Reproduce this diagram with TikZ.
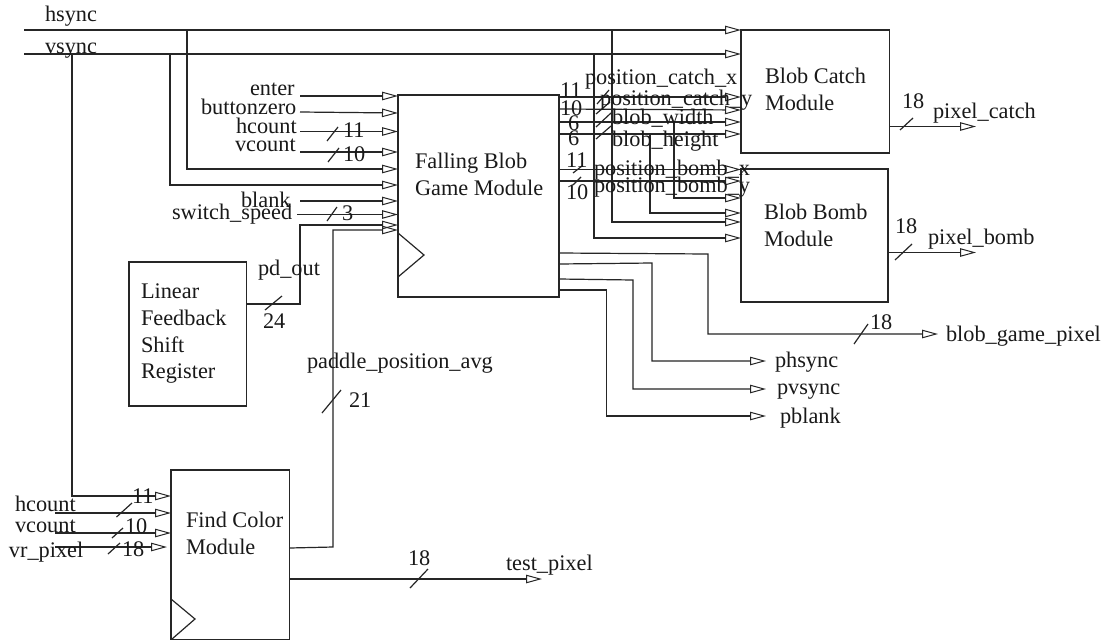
\documentclass[tikz,border=0pt]{standalone}
\usepackage{fontspec}
\setmainfont{Liberation Serif}
\usetikzlibrary{arrows.meta}
\newcommand\lab[4]{\node[lbl] (#1) at (#2,#3) {#4};}
\newcommand\blk[6]{\node[blockbox,minimum width=#4pt,minimum height=#5pt] (#1) at (#2,#3) {};}
\newcommand\slashmark[4]{\draw[wire] (#1,#2) -- (#3,#4);}
\tikzset{
  wire/.style={line width=1.2pt,draw=black!85,line join=miter},
  arr/.style={wire,-{Triangle[open,length=16pt,width=8.5pt,line width=1pt]}},
  blockbox/.style={draw=black!85,line width=1.3pt,anchor=north west,inner sep=0pt,outer sep=0pt},
  lbl/.style={anchor=base west,inner sep=0pt,outer sep=0pt,font=\fontsize{22.3}{26}\selectfont,text=black!90},
}
\begin{document}
\begin{tikzpicture}[x=1pt,y=-1pt]
\useasboundingbox[fill=white] (0,0) rectangle (1107,640);
% blocks
\blk{game}{398}{95}{161}{202}{}
\blk{catch}{741}{30}{148.5}{123}{}
\blk{bomb}{741}{169}{147}{133}{}
\blk{lfsr}{129}{262}{117.5}{144}{}
\blk{fc}{171}{470}{118.5}{169.5}{}
% clock marks
\draw[wire] (398,233) -- (424,255) -- (398,277);
\draw[wire] (171,599) -- (195,619) -- (172,639);
% free ends
\coordinate (hs) at (24,30);
\coordinate (vs) at (24,54);
\coordinate (hsj) at (187,30);
\coordinate (vsj) at (170,54);
\coordinate (vsk) at (72,54);
\coordinate (hsr) at (612,30);
\coordinate (vsr) at (594,54);
\coordinate (wj) at (674,122);
\coordinate (hj) at (650,134);
\coordinate (enterS) at (300,96);
\coordinate (buttonS) at (300,112);
\coordinate (hcS) at (300,131.5);
\coordinate (vcS) at (300,152);
\coordinate (blankS) at (300,201);
\coordinate (swS) at (297,214.5);
\coordinate (fc1S) at (55,513);
\coordinate (fc2S) at (55,533);
\coordinate (fc3S) at (55,547);
\coordinate (pcE) at (976,126.5);
\coordinate (pbE) at (976,252.5);
\coordinate (tpE) at (542,579);
\coordinate (bgE) at (938,334);
\coordinate (phE) at (766,361);
\coordinate (pvE) at (766,389);
\coordinate (plE) at (766,416);
% sync lines
\draw[arr] (hs) -- (catch.west |- hs);
\draw[arr] (vs) -- (catch.west |- vs);
\draw[arr] (hsj) -- (187,169) -- (game.west |- 0,169);
\draw[arr] (vsj) -- (170,185) -- (game.west |- 0,185);
\draw[arr] (vsk) -- (72,496) -- (fc.west |- 0,496);
\draw[arr] (hsr) -- (612,222) -- (bomb.west |- 0,222);
\draw[arr] (vsr) -- (594,238) -- (bomb.west |- 0,238);
% game inputs
\draw[arr] (enterS) -- (game.west |- enterS);
\draw[arr] (buttonS) -- (game.west |- 0,113);
\draw[arr] (hcS) -- (game.west |- hcS);
\draw[arr] (vcS) -- (game.west |- vcS);
\draw[arr] (blankS) -- (game.west |- blankS);
\draw[arr] (swS) -- (game.west |- swS);
\draw[arr] (lfsr.east |- 0,304) -- (300,304) -- (300,225) -- (game.west |- 0,225);
\draw[arr] (fc.east |- 0,548) -- (333,547) -- (333,230) -- (game.west |- 0,230);
% find colour inputs
\draw[arr] (fc1S) -- (fc.west |- fc1S);
\draw[arr] (fc2S) -- (fc.west |- fc2S);
\draw[arr] (fc3S) -- (167,547);
% game to catch and bomb
\draw[arr] (game.east |- 0,97) -- (catch.west |- 0,97);
\draw[arr] (game.east |- 0,109) -- (catch.west |- 0,110);
\draw[arr] (game.east |- wj) -- (catch.west |- wj);
\draw[arr] (game.east |- hj) -- (catch.west |- hj);
\draw[arr] (game.east |- 0,169.5) -- (bomb.west |- 0,169.5);
\draw[arr] (game.east |- 0,181) -- (bomb.west |- 0,181);
\draw[arr] (wj) -- (674,198) -- (bomb.west |- 0,198);
\draw[arr] (hj) -- (650,213) -- (bomb.west |- 0,213);
% game outputs
\draw[arr] (game.east |- 0,253) -- (708,254) -- (708,334) -- (bgE);
\draw[arr] (game.east |- 0,264) -- (652,263) -- (652,361) -- (phE);
\draw[arr] (game.east |- 0,279) -- (633,280) -- (633,389) -- (pvE);
\draw[arr] (game.east |- 0,290) -- (606.5,290) -- (606.5,416) -- (plE);
\draw[arr] (catch.east |- pcE) -- (pcE);
\draw[arr] (bomb.east |- pbE) -- (pbE);
\draw[arr] (fc.east |- tpE) -- (tpE);
% bus marks
\slashmark{327}{141}{338}{127}
\slashmark{328}{162}{339}{148}
\slashmark{327}{221}{337}{207}
\slashmark{265}{310}{282}{296}
\slashmark{322}{413}{341}{390}
\slashmark{116.5}{517}{132}{503}
\slashmark{112}{538}{123}{528}
\slashmark{108}{554}{120}{543}
\slashmark{410}{588}{428}{569}
\slashmark{597}{104}{609}{90}
\slashmark{596}{114}{610}{102}
\slashmark{596}{127}{611}{113}
\slashmark{596}{139}{611}{126}
\slashmark{573}{173}{582}{166}
\slashmark{573}{185}{581}{177}
\slashmark{900}{130}{913}{118}
\slashmark{895}{260}{912}{244}
\slashmark{854}{344}{868}{324}
% texts
\lab{thsync}{45}{21}{hsync}
\lab{tvsync}{45}{53}{vsync}
\lab{tenter}{250}{95}{enter}
\lab{tbutton}{201}{114}{buttonzero}
\lab{thc}{236}{133}{hcount}
\lab{tvc}{235}{151}{vcount}
\lab{tblank}{241}{207}{blank}
\lab{tsw}{172}{219}{switch\_speed}
\lab{tpd}{258}{275}{pd\_out}
\lab{n24}{263}{328}{24}
\lab{tpad}{307}{368}{paddle\_position\_avg}
\lab{n21}{349}{407}{21}
\lab{n11a}{343}{137}{11}
\lab{n10a}{343}{161}{10}
\lab{n3}{342}{220}{3}
\lab{gamea}{415}{168}{Falling Blob}
\lab{gameb}{415}{195}{Game Module}
\lab{lfa}{141}{298}{Linear}
\lab{lfb}{141}{325}{Feedback}
\lab{lfc}{141}{352}{Shift}
\lab{lfd}{141}{378}{Register}
\lab{fca}{186}{527}{Find Color}
\lab{fcb}{186}{554}{Module}
\lab{thc2}{15}{511}{hcount}
\lab{tvc2}{15}{532}{vcount}
\lab{tvr}{9}{557}{vr\_pixel}
\lab{n11b}{132}{503}{11}
\lab{n10b}{125}{533}{10}
\lab{n18b}{122}{556}{18}
\lab{n18c}{408}{565}{18}
\lab{ttp}{506}{570}{test\_pixel}
\lab{caa}{765}{83}{Blob Catch}
\lab{cab}{765}{110}{Module}
\lab{boa}{764}{219}{Blob Bomb}
\lab{bob}{764}{246}{Module}
\lab{n18d}{902}{108}{18}
\lab{tpc}{933}{118}{pixel\_catch}
\lab{n18e}{895}{233}{18}
\lab{tpb}{928}{244}{pixel\_bomb}
\lab{n18f}{870}{329}{18}
\lab{tbg}{946}{341}{blob\_game\_pixel}
\lab{tph}{775}{367}{phsync}
\lab{tpv}{777}{394}{pvsync}
\lab{tpl}{780}{423}{pblank}
\lab{tpcx}{585}{84}{position\_catch\_x}
\lab{tpcy}{600}{105}{position\_catch\_y}
\lab{tbw}{612}{124}{blob\_width}
\lab{tbh}{612}{146}{blob\_height}
\lab{tpbx}{594}{175}{position\_bomb\_x}
\lab{tpby}{594}{192}{position\_bomb\_y}
\lab{n11c}{560}{97}{11}
\lab{n10c}{560}{115}{10}
\lab{n6a}{568}{130}{6}
\lab{n6b}{568}{145}{6}
\lab{n11d}{566}{167}{11}
\lab{n10d}{566}{199}{10}
\end{tikzpicture}
\end{document}
